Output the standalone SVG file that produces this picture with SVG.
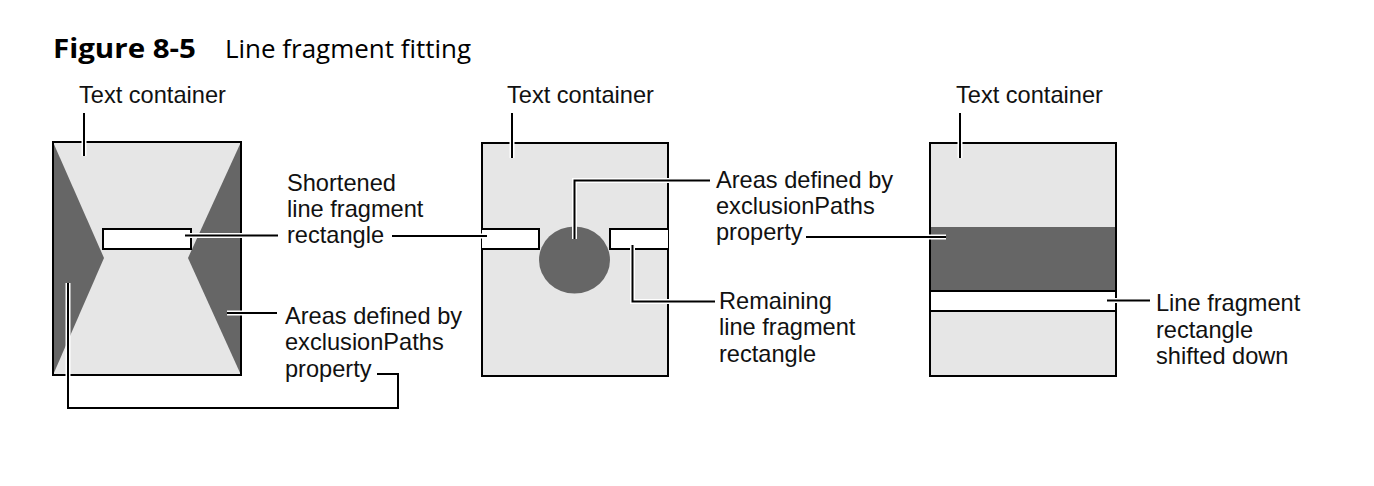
<svg xmlns="http://www.w3.org/2000/svg" width="1374" height="486" viewBox="0 0 1374 486">
<style>
.lbl{font-family:"Liberation Sans",Arial,sans-serif;font-size:23.6px;fill:#111}
.ttl{font-family:"Open Sans","Noto Sans",sans-serif;font-size:26px;fill:#000}
.box{fill:#e6e6e6;stroke:#000;stroke-width:2}
.dark{fill:#666666}
.frag{fill:#fff;stroke:#000;stroke-width:2}
.halo{fill:none;stroke:#fff;stroke-width:5}
.lead{fill:none;stroke:#000;stroke-width:2}
</style>
<rect width="1374" height="486" fill="#fff"/>
<g id="title">
<text class="ttl" x="53" y="58" font-weight="bold" textLength="143" lengthAdjust="spacingAndGlyphs">Figure 8-5</text>
<text class="ttl" x="225" y="58" textLength="246" lengthAdjust="spacingAndGlyphs">Line fragment fitting</text>
</g>
<g id="panel1">
<rect x="53" y="142" width="188" height="233" fill="#e6e6e6"/>
<polygon class="dark" points="53,142 104,258 53,375"/>
<polygon class="dark" points="241,142 188,258 241,375"/>
<rect x="53" y="142" width="188" height="233" fill="none" stroke="#000" stroke-width="2"/>
<rect class="frag" x="103" y="229" width="88" height="20"/>
<text class="lbl" x="79" y="102.5">Text container</text>
</g>
<g id="panel2">
<rect class="box" x="482" y="143" width="186" height="233"/>
<path d="M482,229 H539 V249 H482 Z" fill="#fff"/>
<path d="M668,229 H610 V249 H668 Z" fill="#fff"/>
<path d="M482,229 H539 V249 H482" class="lead"/>
<path d="M668,229 H610 V249 H668" class="lead"/>
<ellipse class="dark" cx="574.5" cy="260" rx="35.5" ry="33.5"/>
<text class="lbl" x="507" y="102.5">Text container</text>
</g>
<g id="panel3">
<rect class="box" x="930" y="143" width="186" height="233"/>
<rect class="dark" x="931" y="227" width="184" height="64"/>
<rect class="frag" x="930" y="291" width="186" height="20"/>
<text class="lbl" x="956" y="102.5">Text container</text>
</g>
<g id="labels">
<text class="lbl" x="287"><tspan x="287" y="191">Shortened</tspan><tspan x="287" y="217">line fragment</tspan><tspan x="287" y="243">rectangle</tspan></text>
<text class="lbl" x="285"><tspan x="285" y="324">Areas defined by</tspan><tspan x="285" y="350">exclusionPaths</tspan><tspan x="285" y="377">property</tspan></text>
<text class="lbl" x="716"><tspan x="716" y="188">Areas defined by</tspan><tspan x="716" y="214">exclusionPaths</tspan><tspan x="716" y="240">property</tspan></text>
<text class="lbl" x="719"><tspan x="719" y="309">Remaining</tspan><tspan x="719" y="335">line fragment</tspan><tspan x="719" y="362">rectangle</tspan></text>
<text class="lbl" x="1156"><tspan x="1156" y="311">Line fragment</tspan><tspan x="1156" y="338">rectangle</tspan><tspan x="1156" y="364">shifted down</tspan></text>
</g>
<g id="connectors">
<g class="halo">
<path d="M84,113 V156"/>
<path d="M512,113 V158"/>
<path d="M960,113 V158"/>
<path d="M185,235.5 H278"/>
<path d="M392,236 H487"/>
<path d="M227,313 H277"/>
<path d="M377,374 H398 V408 H68 V283"/>
<path d="M574.5,239 V180.5 H710"/>
<path d="M806,237 H946"/>
<path d="M632.5,245 V301.5 H715"/>
<path d="M1107,300.5 H1150"/>
</g>
<g class="lead">
<path d="M84,113 V156"/>
<path d="M512,113 V158"/>
<path d="M960,113 V158"/>
<path d="M185,235.5 H278"/>
<path d="M392,236 H487"/>
<path d="M227,313 H277"/>
<path d="M377,374 H398 V408 H68 V283"/>
<path d="M574.5,239 V180.5 H710"/>
<path d="M806,237 H946"/>
<path d="M632.5,245 V301.5 H715"/>
<path d="M1107,300.5 H1150"/>
</g>
</g>
</svg>
